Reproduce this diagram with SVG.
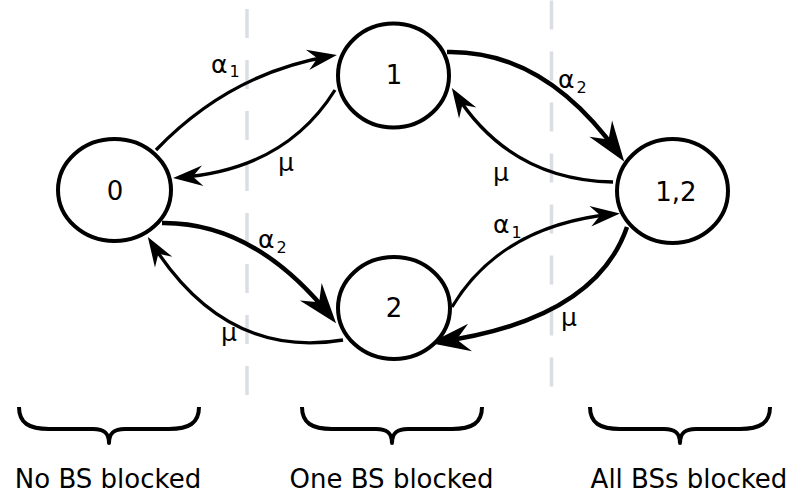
<svg xmlns="http://www.w3.org/2000/svg" width="796" height="497" viewBox="0 0 796 497">
<style>
.sep{stroke:#dadee3;stroke-width:3.5;stroke-dasharray:29 22;fill:none}
.node{fill:#fff;stroke:#000;stroke-width:4}
.edge{fill:none;stroke:#000;stroke-width:3.3;marker-end:url(#arr)}
.thick{stroke-width:4.5}
.brace{fill:none;stroke:#000;stroke-width:4;stroke-linejoin:round}
text{font-family:"DejaVu Sans","Liberation Sans",sans-serif;fill:#000}
.nl{font-size:26px;text-anchor:middle}
.lab{font-size:25px}
.sub{font-size:16px}
.cap{font-size:26px;text-anchor:middle}
</style>
<defs>
<marker id="arr" markerUnits="strokeWidth" markerWidth="12" markerHeight="10" refX="0" refY="0" orient="auto" overflow="visible" viewBox="-9 -5 12 10">
<path d="M1.8,0 L-7.2,-3.1 L-4.2,0 L-7.2,3.1 Z" fill="#000"/>
</marker>
</defs>
<rect width="796" height="497" fill="#fff"/>
<g id="separators">
<line class="sep" x1="247" y1="9" x2="247" y2="398"/>
<line class="sep" x1="551.5" y1="0.5" x2="551.5" y2="387"/>
</g>
<g id="connectors">
<path class="edge" d="M156,150 Q230,73 331,56"/>
<path class="edge" d="M335,90 Q285,170 179,177.5"/>
<path class="edge thick" d="M447,52 Q545,50 619.5,155"/>
<path class="edge" d="M613,182 Q510,180 455,93"/>
<path class="edge thick" d="M162,223 Q255,222 331,317"/>
<path class="edge" d="M343,340 Q225,360 151,242"/>
<path class="edge" d="M452,307 C480,260 530,222 614,214"/>
<path class="edge thick" d="M627,227 Q595,320 438,342"/>
</g>
<g id="labels">
<text class="lab" x="211" y="73">α<tspan class="sub" dx="2" dy="4">1</tspan></text>
<text class="lab" x="278" y="171">μ</text>
<text class="lab" x="558" y="88">α<tspan class="sub" dx="2" dy="5">2</tspan></text>
<text class="lab" x="493" y="181">μ</text>
<text class="lab" x="258" y="248">α<tspan class="sub" dx="2" dy="5">2</tspan></text>
<text class="lab" x="221" y="341">μ</text>
<text class="lab" x="493" y="233">α<tspan class="sub" dx="2" dy="5">1</tspan></text>
<text class="lab" x="561" y="326">μ</text>
</g>
<g id="node-0">
<ellipse class="node" cx="114.5" cy="190" rx="56.5" ry="51"/>
<text class="nl" x="115" y="200">0</text>
</g>
<g id="node-1">
<ellipse class="node" cx="393.5" cy="75.5" rx="55.5" ry="52"/>
<text class="nl" x="394" y="84">1</text>
</g>
<g id="node-2">
<ellipse class="node" cx="394" cy="308" rx="56" ry="51"/>
<text class="nl" x="394" y="317">2</text>
</g>
<g id="node-12">
<ellipse class="node" cx="672.5" cy="191" rx="55.5" ry="52"/>
<text class="nl" x="676" y="201">1,2</text>
</g>
<g id="braces">
<path class="brace" transform="translate(19,407)" d="M0,0 C0,16 10,22 30,22 L74,22 C85,22 90,26 90,36 C90,26 95,22 106,22 L150,22 C170,22 180,16 180,0"/>
<path class="brace" transform="translate(302,407)" d="M0,0 C0,16 10,22 30,22 L74,22 C85,22 90,26 90,36 C90,26 95,22 106,22 L150,22 C170,22 180,16 180,0"/>
<path class="brace" transform="translate(590,407)" d="M0,0 C0,16 10,22 30,22 L74,22 C85,22 90,26 90,36 C90,26 95,22 106,22 L150,22 C170,22 180,16 180,0"/>
</g>
<g id="captions">
<text class="cap" x="108" y="488">No BS blocked</text>
<text class="cap" x="391.5" y="488">One BS blocked</text>
<text class="cap" x="689" y="488">All BSs blocked</text>
</g>
</svg>
